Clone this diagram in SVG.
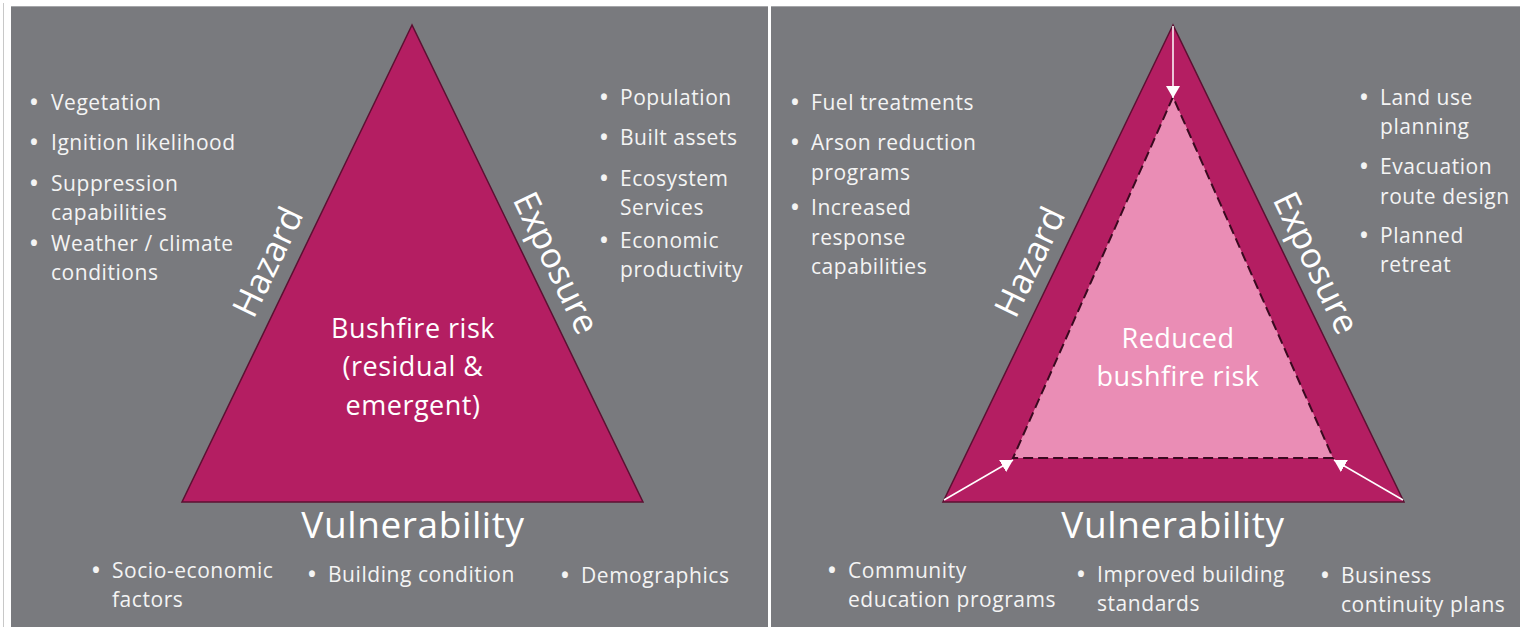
<svg xmlns="http://www.w3.org/2000/svg" width="1520" height="627" viewBox="0 0 1520 627">
<style>
.panel{fill:#797a7e}
.tri{fill:#b41e62;stroke:#5c1032;stroke-width:1.5}
.inner{fill:#ea8db5;stroke:#3a0a20;stroke-width:2;stroke-dasharray:10 5}
.b{font-family:"Open Sans","Noto Sans",sans-serif;font-size:21px;letter-spacing:0.55px;fill:#f4f4f4}
.dot{font-size:21px;font-weight:bold;letter-spacing:0}
.big{font-family:"Open Sans","Noto Sans",sans-serif;font-size:35px;fill:#ffffff;text-anchor:middle}
.vul{font-size:37px;letter-spacing:0.6px}
.mid{font-family:"Open Sans","Noto Sans",sans-serif;font-size:27px;letter-spacing:0.5px;fill:#ffffff;text-anchor:middle}
.arr{stroke:#ffffff;stroke-width:1.5;fill:none;marker-end:url(#ah)}
</style>
<defs>
<marker id="ah" viewBox="0 0 12 14" refX="12" refY="7" markerWidth="12" markerHeight="14" markerUnits="userSpaceOnUse" orient="auto">
<path d="M0,0 L12,7 L0,14 Z" fill="#ffffff"/>
</marker>
</defs>
<rect width="1520" height="627" fill="#ffffff"/>
<line x1="3.5" y1="3" x2="3.5" y2="627" stroke="#c8c8c8" stroke-width="1"/>
<rect class="panel" x="11" y="6" width="757" height="621"/>
<rect class="panel" x="771" y="6" width="749" height="621"/>
<line x1="11" y1="6.5" x2="768" y2="6.5" stroke="#a5a6a9" stroke-width="1"/>
<line x1="771" y1="6.5" x2="1520" y2="6.5" stroke="#a5a6a9" stroke-width="1"/>

<g id="left-triangle">
<polygon class="tri" points="412,25 182,502 643,502"/>
<text class="mid" x="413" y="338">Bushfire risk</text>
<text class="mid" x="413" y="376">(residual &amp;</text>
<text class="mid" x="413" y="415">emergent)</text>
</g>
<g id="left-hazard"><text class="big" transform="translate(268,262) rotate(-64.3)" y="12">Hazard</text></g>
<g id="left-exposure"><text class="big" transform="translate(556,263) rotate(64.3)" y="12">Exposure</text></g>
<g id="left-vulnerability"><text class="big vul" x="413" y="538">Vulnerability</text></g>

<g id="left-hazard-list" class="b">
<text class="dot" x="30" y="110">•</text><text x="51" y="110">Vegetation</text>
<text class="dot" x="30" y="150">•</text><text x="51" y="150">Ignition likelihood</text>
<text class="dot" x="30" y="191">•</text><text x="51" y="191">Suppression</text>
<text x="51" y="220">capabilities</text>
<text class="dot" x="30" y="251">•</text><text x="51" y="251">Weather / climate</text>
<text x="51" y="280">conditions</text>
</g>
<g id="left-exposure-list" class="b">
<text class="dot" x="600" y="105">•</text><text x="620" y="105">Population</text>
<text class="dot" x="600" y="145">•</text><text x="620" y="145">Built assets</text>
<text class="dot" x="600" y="186">•</text><text x="620" y="186">Ecosystem</text>
<text x="620" y="215">Services</text>
<text class="dot" x="600" y="248">•</text><text x="620" y="248">Economic</text>
<text x="620" y="277">productivity</text>
</g>
<g id="left-vulnerability-list" class="b">
<text class="dot" x="92" y="578">•</text><text x="112" y="578">Socio-economic</text>
<text x="112" y="607">factors</text>
<text class="dot" x="308" y="582">•</text><text x="328" y="582">Building condition</text>
<text class="dot" x="561" y="583">•</text><text x="581" y="583">Demographics</text>
</g>

<g id="right-triangle">
<polygon class="tri" points="1173,25 943,502 1404,502"/>
<polygon class="inner" points="1173,97 1013,458 1333,458"/>
<text class="mid" x="1178" y="348">Reduced</text>
<text class="mid" x="1178" y="386">bushfire risk</text>
</g>
<g id="connectors">
<line class="arr" x1="1173" y1="26" x2="1173" y2="98"/>
<line class="arr" x1="944" y1="500" x2="1013" y2="460"/>
<line class="arr" x1="1403" y1="500" x2="1334" y2="460"/>
</g>
<g id="right-hazard"><text class="big" transform="translate(1030,262) rotate(-64.3)" y="12">Hazard</text></g>
<g id="right-exposure"><text class="big" transform="translate(1316,263) rotate(64.3)" y="12">Exposure</text></g>
<g id="right-vulnerability"><text class="big vul" x="1173" y="538">Vulnerability</text></g>

<g id="right-hazard-list" class="b">
<text class="dot" x="791" y="110">•</text><text x="811" y="110">Fuel treatments</text>
<text class="dot" x="791" y="150">•</text><text x="811" y="150">Arson reduction</text>
<text x="811" y="180">programs</text>
<text class="dot" x="791" y="215">•</text><text x="811" y="215">Increased</text>
<text x="811" y="245">response</text>
<text x="811" y="274">capabilities</text>
</g>
<g id="right-exposure-list" class="b">
<text class="dot" x="1360" y="105">•</text><text x="1380" y="105">Land use</text>
<text x="1380" y="134">planning</text>
<text class="dot" x="1360" y="174">•</text><text x="1380" y="174">Evacuation</text>
<text x="1380" y="204">route design</text>
<text class="dot" x="1360" y="243">•</text><text x="1380" y="243">Planned</text>
<text x="1380" y="272">retreat</text>
</g>
<g id="right-vulnerability-list" class="b">
<text class="dot" x="828" y="578">•</text><text x="848" y="578">Community</text>
<text x="848" y="607">education programs</text>
<text class="dot" x="1077" y="582">•</text><text x="1097" y="582">Improved building</text>
<text x="1097" y="611">standards</text>
<text class="dot" x="1321" y="583">•</text><text x="1341" y="583">Business</text>
<text x="1341" y="612">continuity plans</text>
</g>
</svg>
